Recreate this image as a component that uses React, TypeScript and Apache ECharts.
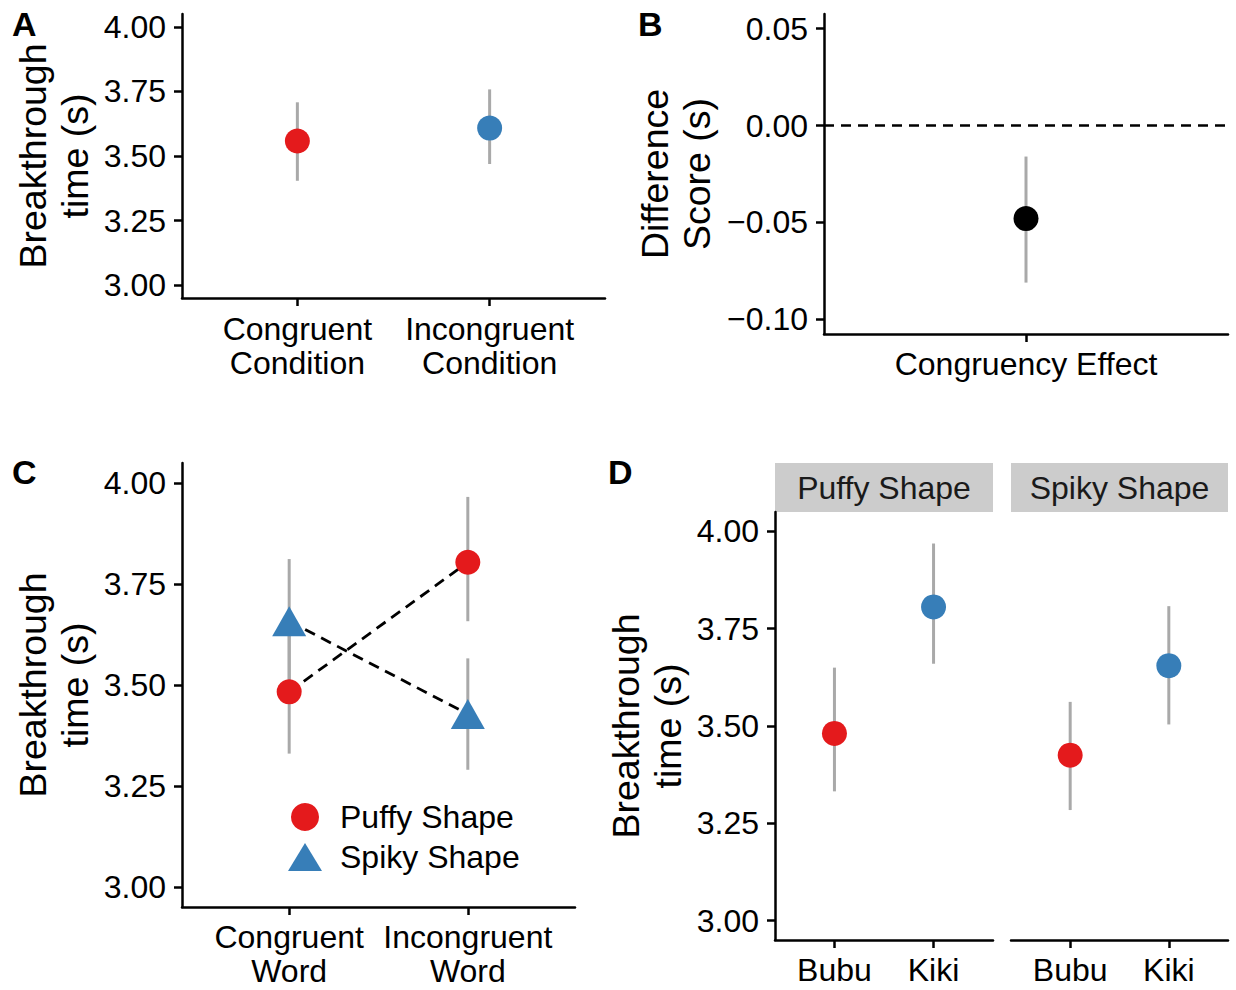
import React, { useEffect, useRef } from "react";
import * as echarts from "echarts";

// ---------- data ----------
const aCats = ["Congruent\nCondition", "Incongruent\nCondition"];
const aMean = [3.558, 3.608];
const aLow = [3.404, 3.469];
const aHigh = [3.708, 3.758];

const bCats = ["Congruency Effect"];
const bMean = [-0.048];
const bLow = [-0.081];
const bHigh = [-0.016];

const cCats = ["Congruent\nWord", "Incongruent\nWord"];
const cPuffyMean = [3.483, 3.804];
const cPuffyLow = [3.33, 3.658];
const cPuffyHigh = [3.65, 3.966];
const cSpikyMean = [3.658, 3.428];
const cSpikyLow = [3.505, 3.29];
const cSpikyHigh = [3.812, 3.566];

const dFacets = ["Puffy Shape", "Spiky Shape"];
const dCats = ["Bubu", "Kiki"];
const dPuffyMean = [3.481, 3.806];
const dPuffyLow = [3.332, 3.66];
const dPuffyHigh = [3.65, 3.969];
const dSpikyMean = [3.425, 3.655];
const dSpikyLow = [3.284, 3.504];
const dSpikyHigh = [3.562, 3.808];

const timeTicks = [3, 3.25, 3.5, 3.75, 4];
const diffTicks = [-0.1, -0.05, 0, 0.05];

// ---------- styles ----------
const FONT = "'Liberation Sans', Arial, Helvetica, sans-serif";
const RED = "#E41A1C";
const BLUE = "#377EB8";
const GRAY = "#A9A9A9";
const TICK_FS = 32;
const TITLE_FS = 37.5;
const lineStyle = { color: "#000", width: 2.5 };

const fmt = (v: number) => (v < -1e-9 ? "\u2212" : "") + Math.abs(v).toFixed(2);

function xAx(gridIndex: number, cats: string[], margin: number) {
  const pos = cats.map((_, i) => i + 1);
  return {
    type: "value",
    gridIndex,
    min: 0.4,
    max: cats.length + 0.6,
    axisLine: { show: true, onZero: false, lineStyle },
    axisTick: { show: true, length: 8, lineStyle, customValues: pos },
    axisLabel: {
      customValues: pos,
      formatter: (v: number) => cats[Math.round(v) - 1] ?? "",
      fontSize: TICK_FS,
      lineHeight: 34,
      color: "#000",
      fontFamily: FONT,
      margin,
    },
    splitLine: { show: false },
  };
}

function yAx(
  gridIndex: number,
  min: number,
  max: number,
  ticks: number[],
  name: string,
  nameGap: number,
  show = true
) {
  return {
    type: "value",
    gridIndex,
    min,
    max,
    show,
    name,
    nameLocation: "middle",
    nameRotate: 90,
    nameGap,
    nameMoveOverlap: false,
    nameTextStyle: { fontSize: TITLE_FS, lineHeight: 42, color: "#000", fontFamily: FONT },
    axisLine: { show: true, onZero: false, lineStyle },
    axisTick: { show: true, length: 8, lineStyle, customValues: ticks },
    axisLabel: {
      customValues: ticks,
      formatter: fmt,
      fontSize: TICK_FS,
      color: "#000",
      fontFamily: FONT,
      margin: 16,
    },
    splitLine: { show: false },
  };
}

function errBars(xi: number, low: number[], high: number[]) {
  return {
    type: "custom",
    xAxisIndex: xi,
    yAxisIndex: xi,
    z: 1,
    encode: { x: 0, y: [1, 2] },
    data: low.map((l, i) => [i + 1, l, high[i]]),
    renderItem: (_p: any, api: any) => {
      const x = api.value(0);
      const p1 = api.coord([x, api.value(1)]);
      const p2 = api.coord([x, api.value(2)]);
      return {
        type: "line",
        shape: { x1: p1[0], y1: p1[1], x2: p2[0], y2: p2[1] },
        style: { stroke: GRAY, lineWidth: 3 },
      };
    },
  };
}

function points(xi: number, name: string, mean: number[], colors: string[], symbol = "circle", size: any = 25) {
  return {
    type: "scatter",
    name,
    xAxisIndex: xi,
    yAxisIndex: xi,
    z: 3,
    symbol,
    symbolSize: size,
    data: mean.map((m, i) => ({ value: [i + 1, m], itemStyle: { color: colors[i % colors.length] } })),
    itemStyle: { color: colors[0], opacity: 1 },
    emphasis: { disabled: true },
  };
}

function dashed(xi: number, name: string, mean: number[]) {
  return {
    type: "line",
    name,
    xAxisIndex: xi,
    yAxisIndex: xi,
    z: 2,
    symbol: "none",
    data: mean.map((m, i) => [i + 1, m]),
    lineStyle: { color: "#000", width: 2.8, type: [11, 7] },
  };
}

export default function App() {
  const ref = useRef<HTMLDivElement>(null);
  useEffect(() => {
    if (!ref.current) return;
    const chart = echarts.init(ref.current, null, { renderer: "svg" });
    const tag = (t: string, x: number, y: number) => ({
      type: "text",
      x,
      y,
      style: { text: t, fontSize: 34, fontWeight: "bold", fill: "#000", fontFamily: FONT, textAlign: "left", textVerticalAlign: "middle" },
    });
    const strip = (t: string, x: number, w: number) => ({
      type: "group",
      children: [
        { type: "rect", shape: { x, y: 463, width: w, height: 49 }, style: { fill: "#CCCCCC" } },
        {
          type: "text",
          x: x + w / 2,
          y: 488,
          style: { text: t, fontSize: TICK_FS, fill: "#1a1a1a", fontFamily: FONT, textAlign: "center", textVerticalAlign: "middle" },
        },
      ],
    });
    const option: any = {
      animation: false,
      backgroundColor: "#fff",
      textStyle: { fontFamily: FONT },
      grid: [
        { left: 182, top: 14, width: 423, height: 284, outerBoundsMode: "none" },
        { left: 824, top: 14, width: 404, height: 320, outerBoundsMode: "none" },
        { left: 182, top: 463, width: 393, height: 444, outerBoundsMode: "none" },
        { left: 775, top: 512, width: 218, height: 428, outerBoundsMode: "none" },
        { left: 1011, top: 512, width: 217, height: 428, outerBoundsMode: "none" },
      ],
      xAxis: [
        xAx(0, aCats, 14),
        xAx(1, bCats, 13),
        xAx(2, cCats, 13),
        xAx(3, dCats, 13),
        xAx(4, dCats, 13),
      ],
      yAxis: [
        yAx(0, 2.95, 4.05, timeTicks, "Breakthrough\ntime (s)", 86),
        yAx(1, -0.1075, 0.0575, diffTicks, "Difference\nScore (s)", 106),
        yAx(2, 2.95, 4.05, timeTicks, "Breakthrough\ntime (s)", 86),
        yAx(3, 2.95, 4.05, timeTicks, "Breakthrough\ntime (s)", 86),
        yAx(4, 2.95, 4.05, timeTicks, "", 0, false),
      ],
      legend: {
        data: [
          { name: "Puffy Shape", icon: "circle" },
          { name: "Spiky Shape", icon: "triangle" },
        ],
        orient: "vertical",
        left: 283,
        top: 796,
        itemWidth: 34,
        itemHeight: 28,
        itemGap: 8,
        selectedMode: false,
        textStyle: { fontSize: TICK_FS, color: "#000", fontFamily: FONT, padding: [0, 0, 0, 13] },
      },
      series: [
        // A
        errBars(0, aLow, aHigh),
        points(0, "A", aMean, [RED, BLUE]),
        // B
        errBars(1, bLow, bHigh),
        {
          ...points(1, "B", bMean, ["#000"]),
          markLine: {
            silent: true,
            symbol: "none",
            label: { show: false },
            lineStyle: { color: "#000", width: 2.5, type: [10, 7] },
            data: [{ yAxis: 0 }],
          },
        },
        // C
        errBars(2, cPuffyLow, cPuffyHigh),
        errBars(2, cSpikyLow, cSpikyHigh),
        dashed(2, "Puffy line", cPuffyMean),
        dashed(2, "Spiky line", cSpikyMean),
        points(2, "Puffy Shape", cPuffyMean, [RED]),
        points(2, "Spiky Shape", cSpikyMean, [BLUE], "triangle", [34, 30]),
        // D
        errBars(3, dPuffyLow, dPuffyHigh),
        points(3, "D " + dFacets[0], dPuffyMean, [RED, BLUE]),
        errBars(4, dSpikyLow, dSpikyHigh),
        points(4, "D " + dFacets[1], dSpikyMean, [RED, BLUE]),
      ],
      graphic: [
        tag("A", 12, 24),
        tag("B", 638, 24),
        tag("C", 12, 472),
        tag("D", 608, 472),
        strip(dFacets[0], 775, 218),
        strip(dFacets[1], 1011, 217),
      ],
    };
    chart.setOption(option);
    return () => chart.dispose();
  }, []);
  return (
    <div
      ref={ref}
      style={{ position: "absolute", left: 0, top: 0, width: 1236, height: 990, background: "#fff" }}
    />
  );
}
